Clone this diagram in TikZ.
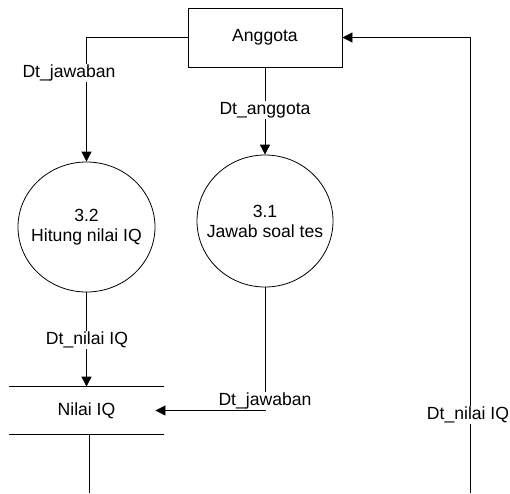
\documentclass[tikz,border=0pt]{standalone}
\usepackage{fontspec}
\setmainfont{Liberation Sans}
\usetikzlibrary{arrows.meta,shapes.geometric}
\newcommand{\ctrline}[1]{\makebox[0pt]{#1}}
\begin{document}
\begin{tikzpicture}[x=1pt,y=-1pt,
  font=\fontsize{17.6}{20}\selectfont,
  line width=0.8pt,
  entity/.style={draw,minimum width=154pt,minimum height=59pt,inner sep=0pt},
  process/.style={draw,ellipse,inner sep=0pt,align=center},
  store/.style={minimum width=155pt,minimum height=47pt,inner sep=0pt},
  flowlabel/.style={fill=white,inner sep=1pt},
  flow/.style={-{Triangle[length=10pt,width=10pt]}}]
\useasboundingbox (0,0) rectangle (510,493);

% external entity and processes
\node[entity] (ang) at (265,37.5) {Anggota};
\node[process,minimum width=137pt,minimum height=130pt] (p32) at (86.5,227)
  {\ctrline{3.2}\\\ctrline{Hitung nilai IQ}};
\node[process,minimum width=136pt,minimum height=132pt] (p31) at (265,221)
  {\ctrline{3.1}\\\ctrline{Jawab soal tes}};

% data store with open sides
\node[store] (nilai) at (86.5,410.5) {Nilai IQ};
\draw (nilai.north west) -- (nilai.north east);
\draw (nilai.south west) -- (nilai.south east);

% free ends at the lower edge
\coordinate (outL) at (89,493);
\coordinate (inR) at (470,493);

% flows
\draw[flow] (ang.west) -| (p32.north);
\node[flowlabel] (l1) at (69,73) {Dt\_jawaban};

\draw[flow] (ang.south) -- (p31.north);
\node[flowlabel] (l2) at (265,110) {Dt\_anggota};

\draw[flow] (p32.south) -- (nilai.north);
\node[flowlabel] (l3) at (87,340) {Dt\_nilai IQ};

\draw[flow] (p31.south) |- ([xshift=-9pt]nilai.east);
\node[flowlabel] (l4) at (265,401) {Dt\_jawaban};

\draw (nilai.south -| outL) -- (outL);

\draw[flow] (inR) |- (ang.east);
\node[flowlabel] (l5) at (468,415) {Dt\_nilai IQ};
\end{tikzpicture}
\end{document}
